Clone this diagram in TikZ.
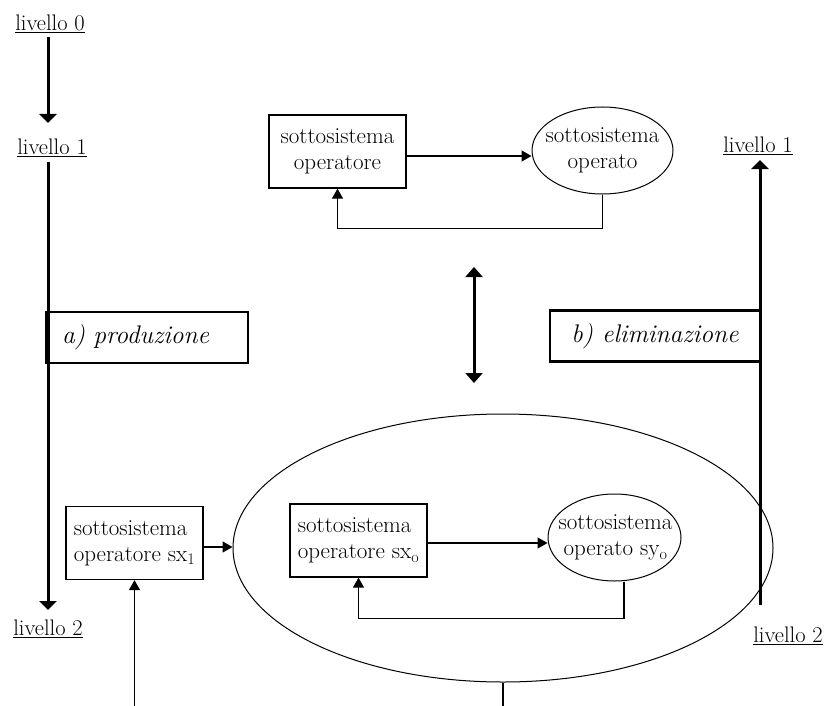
\documentclass[tikz,border=0pt]{standalone}
\usetikzlibrary{arrows.meta,shapes.geometric}
\begin{document}
\begin{tikzpicture}[x=1pt,y=-1pt,
  lbl/.style={font=\fontsize{22.5}{26}\selectfont, inner sep=0pt},
  sysbox/.style={draw, line width=1.3pt, rectangle, inner sep=0pt,
    minimum width=137pt, minimum height=73pt,
    font=\fontsize{23}{26}\selectfont},
  sysell/.style={draw, line width=1pt, ellipse, inner sep=0pt},
  elltext/.style={inner sep=0pt, font=\fontsize{23}{26}\selectfont, align=center},
  phase/.style={draw, line width=2.2pt, rectangle, inner ysep=0pt,
    minimum height=51pt, font=\itshape\fontsize{25.5}{28}\selectfont},
  flow/.style={line width=1.3pt, -{Triangle[length=10pt,width=11pt]}},
  level/.style={line width=3pt, -{Triangle[length=9pt,width=17pt]}},
  both/.style={line width=3pt, {Triangle[length=10pt,width=17pt]}-{Triangle[length=10pt,width=17pt]}}
]
\useasboundingbox (0,0) rectangle (824,706);

% --- left scale: production ---
\node[lbl] (l0) at (50,24) {\underline{livello 0}};
\node[lbl] (l1L) at (52,148) {\underline{livello 1}};
\node[lbl] (l2L) at (48,629) {\underline{livello 2}};
\coordinate (p0a) at (48,37);
\coordinate (p0b) at (48,123);
\coordinate (p1a) at (48,162);
\coordinate (p1b) at (48,610);
\draw[level] (p0a) -- (p0b);
\draw[level] (p1a) -- (p1b);
\node[phase, text width=170pt, align=left, inner xsep=16pt] (prod) at (147,337.5) {a) produzione};

% --- right scale: elimination ---
\node[lbl] (l1R) at (758,146) {\underline{livello 1}};
\node[lbl] (l2R) at (788,636) {\underline{livello 2}};
\coordinate (q1a) at (760,605);
\coordinate (q1b) at (760,160);
\draw[level] (q1a) -- (q1b);
\node[phase, minimum width=210pt, inner xsep=0pt] (elim) at (655,336) {b) eliminazione};

% --- upper system ---
\node[sysbox, align=center] (op) at (337.5,151.5) {sottosistema\\operatore};
\node[sysell, minimum width=141pt, minimum height=87pt] (od) at (602.5,150.5) {};
\node[elltext] (odt) at (od.center) {sottosistema\\operato};
\draw[flow] ([yshift=-4.5pt]op.east) -- ([yshift=-4.5pt]op.east -| od.west);
\draw[flow] (od.south) -- ++(0,34) -| (op.south);

% --- equivalence ---
\coordinate (e1) at (474,267);
\coordinate (e2) at (474,383);
\draw[both] (e1) -- (e2);

% --- lower system ---
\node[sysell, minimum width=540pt, minimum height=268pt] (big) at (503,548) {};
\node[sysbox, align=left] (op0) at (358.5,540.5) {sottosistema\\operatore sx\textsubscript{o}};
\node[sysell, minimum width=133pt, minimum height=87pt] (od0) at (614.5,537.5) {};
\node[elltext] (od0t) at ([xshift=1pt]od0.center) {sottosistema\\operato sy\textsubscript{o}};
\draw[flow] ([yshift=-2.5pt]op0.east) -- ([yshift=-2.5pt]op0.east -| od0.west);
\draw[flow] ([xshift=9.5pt]od0.south) -- ++(0,37) -| (op0.south);

\node[sysbox, align=left] (op1) at (134.5,543) {sottosistema\\operatore sx\textsubscript{1}};
\draw[flow] ([yshift=-4pt]op1.east) -- ([yshift=-4pt]op1.east -| big.west);
\coordinate (in1) at (134.5,706);
\draw[flow] (in1) -- (op1.south);
\coordinate (out0) at (503,706);
\draw[line width=1.3pt] (big.south) -- (out0);
\end{tikzpicture}
\end{document}
